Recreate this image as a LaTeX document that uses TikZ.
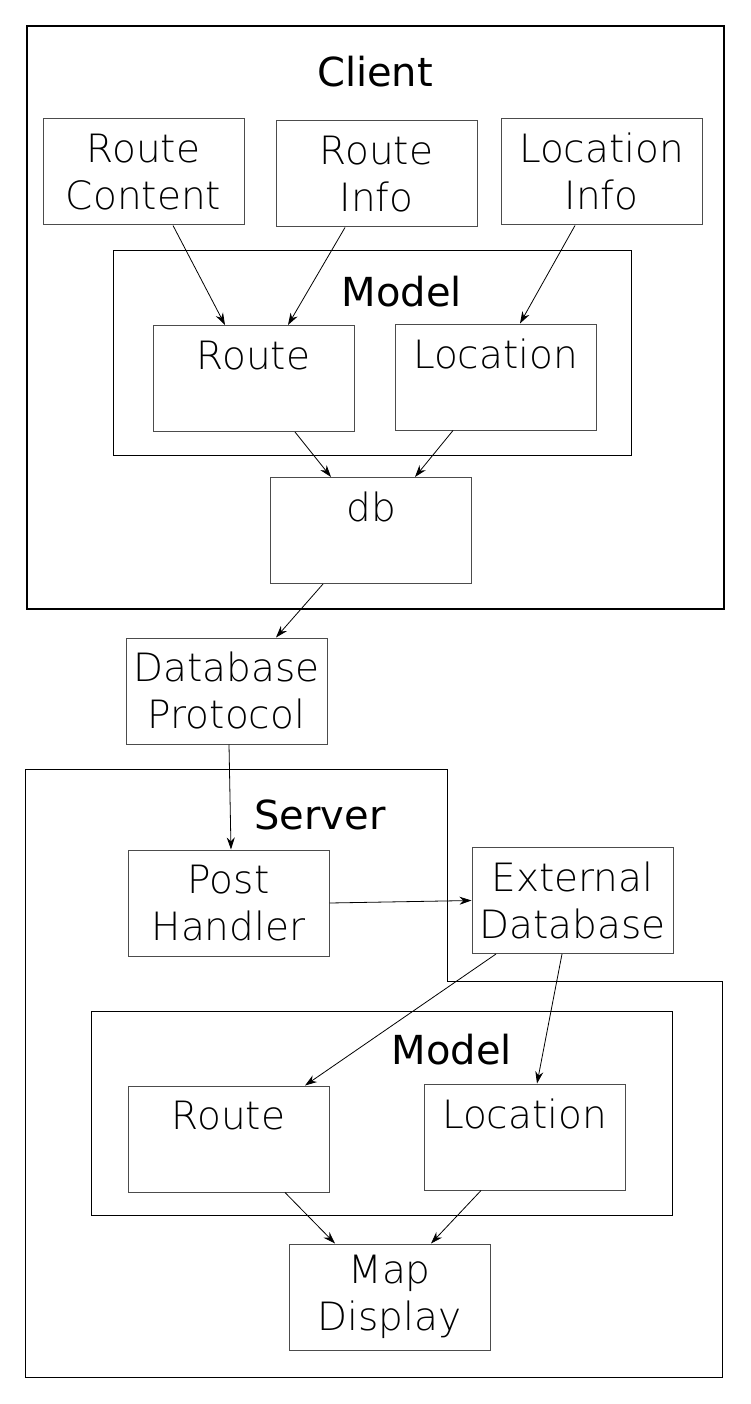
\documentclass[tikz,border=0pt]{standalone}
\usepackage{fontspec}
\setmainfont{DejaVu Sans}
\newfontfamily\boxfont{DejaVu Sans ExtraLight}
\usetikzlibrary{arrows.meta, calc}

\begin{document}
\begin{tikzpicture}[
        x=1pt, y=-1pt,
        frame/.style={draw=black, line width=1pt},
        model box/.style={draw=black, line width=1pt},
        part/.style={draw=black!70, line width=1pt, fill=white, minimum width=201pt,
            minimum height=106pt, inner sep=0pt, align=center,
            font=\boxfont\fontsize{39}{47}\selectfont},
        title/.style={font=\fontsize{40}{46}\selectfont},
        pile/.style={line width=0.8pt, -{Stealth[length=12pt, width=8pt]}}]

    \useasboundingbox (0,0) rectangle (750,1404);

    % client
    \draw[frame, line width=2pt] (27,26) rectangle (724,609);
    \node(client)[title] at (375,72) {Client};
    \node(rcontent)[part] at (143.5,172) {Route\\Content};
    \node(rinfo)[part] at (376.5,174) {Route\\Info};
    \node(linfo)[part] at (601.5,172) {Location\\Info};
    \draw[model box] (113,251) rectangle (631,455);
    \node(cmodel)[title] at (402,292) {Model};
    \node(croute)[part] at (253.5,378.5) {Route\\\mbox{}};
    \node(cloc)[part] at (495.5,377) {Location\\\mbox{}};
    \node(db)[part] at (371,530.5) {db\\\mbox{}};

    \node(dbproto)[part] at (226.5,691) {Database\\Protocol};

    % server
    \draw[frame] (25,769) -- (447,769) -- (447,981) -- (722,981) -- (722,1377) -- (25,1377) -- cycle;
    \node(server)[title] at (320,815) {Server};
    \node(post)[part] at (228.5,903) {Post\\Handler};
    \node(extdb)[part] at (572.5,900.5) {External\\Database};
    \draw[model box] (91,1011) rectangle (672,1215);
    \node(smodel)[title] at (452,1050) {Model};
    \node(sroute)[part] at (228.5,1139) {Route\\\mbox{}};
    \node(sloc)[part] at (524.5,1137) {Location\\\mbox{}};
    \node(map)[part] at (389.5,1297) {Map\\Display};

    % connectors
    \draw[pile] ([xshift=29.5]rcontent.south) -- ([xshift=-28.5]croute.north);
    \draw[pile] ([xshift=-31.5]rinfo.south) -- ([xshift=34.5]croute.north);
    \draw[pile] ([xshift=-26.5]linfo.south) -- ([xshift=24.5]cloc.north);
    \draw[pile] ([xshift=41.5]croute.south) -- ([xshift=-40]db.north);
    \draw[pile] ([xshift=-42.5]cloc.south) -- ([xshift=44]db.north);
    \draw[pile] ([xshift=-48]db.south) -- ([xshift=49.5]dbproto.north);
    \draw[pile] ([xshift=2.5]dbproto.south) -- ([xshift=2.5]post.north);
    \draw[pile] (post.east) -- (extdb.west);
    \draw[pile] ([xshift=-76.5]extdb.south) -- ([xshift=76.5]sroute.north);
    \draw[pile] ([xshift=-10.5]extdb.south) -- ([xshift=12.5]sloc.north);
    \draw[pile] ([xshift=56.5]sroute.south) -- ([xshift=-54.5]map.north);
    \draw[pile] ([xshift=-43.5]sloc.south) -- ([xshift=41.5]map.north);
\end{tikzpicture}
\end{document}
